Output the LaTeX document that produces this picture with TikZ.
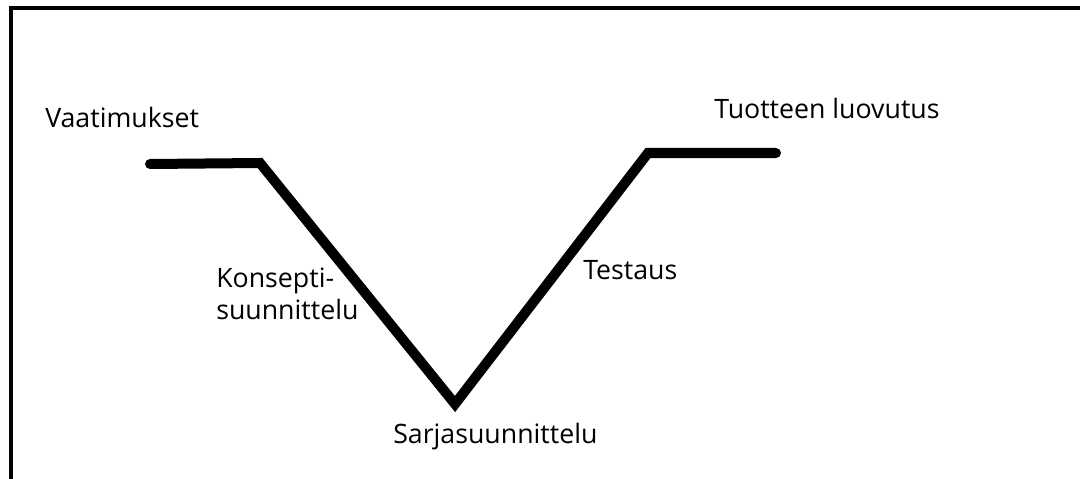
\documentclass[tikz,border=0pt]{standalone}
\usepackage{fontspec}
\setmainfont{Open Sans}
\usetikzlibrary{positioning}
\tikzset{
    vlabel/.style={font=\fontsize{19}{23}\selectfont, inner sep=0pt, anchor=west},
    vline/.style={line width=10*0.025cm, line cap=round, line join=miter}
}
\begin{document}
\begin{tikzpicture}[x=0.025cm, y=-0.025cm]
    \useasboundingbox (0, 0) rectangle (1080, 479);
    % kehys
    \draw[line width=0.1cm] (11, 479) -- (11, 8) -- (1080, 8);

    % V-malli
    \coordinate (p1) at (150, 164);
    \coordinate (p2) at (260, 163);
    \coordinate (p3) at (455, 404);
    \coordinate (p4) at (648, 153);
    \coordinate (p5) at (776, 153);
    \draw[vline] (p1) -- (p2) -- (p3) -- (p4) -- (p5);

    % tekstit
    \node[vlabel] (req) at (45, 117) {Vaatimukset};
    \node[vlabel] (rel) at (714, 108) {Tuotteen luovutus};
    \node[vlabel, align=left] (concept) at (216, 294) {Konsepti-\\suunnittelu};
    \node[vlabel] (test) at (583, 270) {Testaus};
    \node[vlabel] (series) at (393, 437) {Sarjasuunnittelu};
\end{tikzpicture}
\end{document}
